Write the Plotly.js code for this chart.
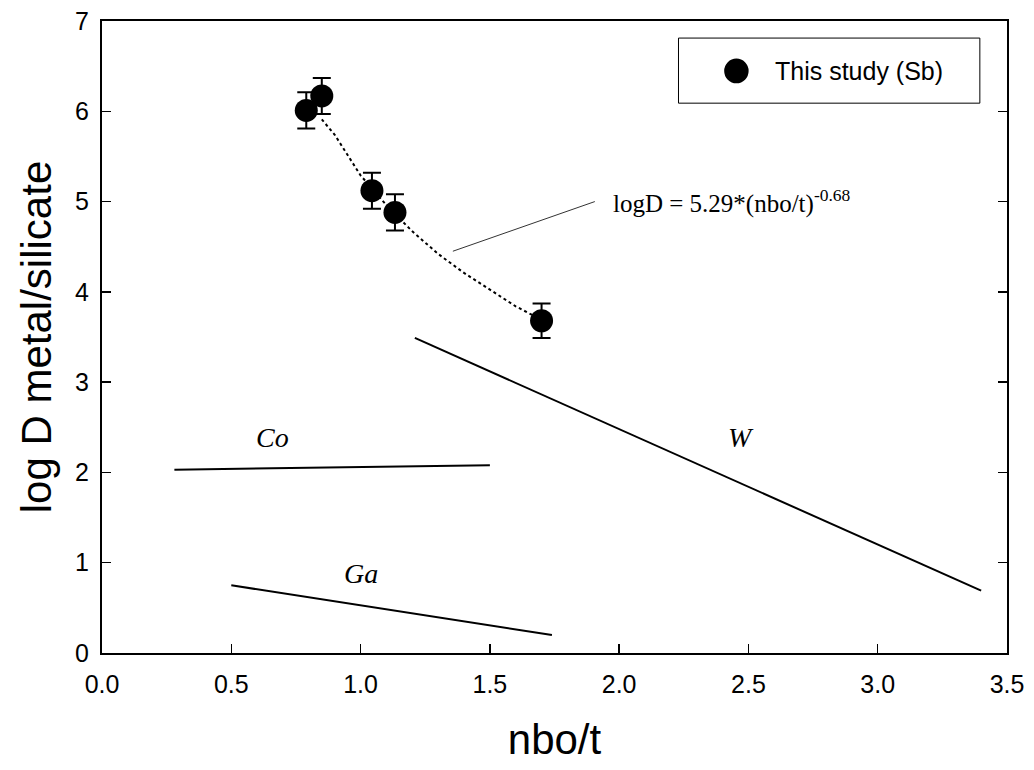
<!DOCTYPE html>
<html>
<head>
<meta charset="utf-8">
<script src="https://cdn.plot.ly/plotly-3.0.1.min.js"></script>
<style>html,body{margin:0;padding:0;background:#fff;}#chart{width:1034px;height:770px;}</style>
</head>
<body>
<div id="chart"></div>
<script>
// This study (Sb) data
const sbX = [0.79, 0.85, 1.044, 1.133, 1.70];
const sbY = [6.01, 6.17, 5.12, 4.88, 3.68];
const sbErr = [0.20, 0.20, 0.20, 0.20, 0.19];

// Dotted fit curve
const fitX = [0.85, 0.9, 1.0, 1.1, 1.2, 1.3, 1.4, 1.5, 1.6, 1.7];
const fitY = [5.91, 5.74, 5.29, 4.96, 4.67, 4.42, 4.21, 4.02, 3.84, 3.69];

// Literature trend lines
const coX = [0.28, 1.50];
const coY = [2.03, 2.08];
const gaX = [0.50, 1.74];
const gaY = [0.75, 0.20];
const wX = [1.21, 3.40];
const wY = [3.49, 0.69];

// Pointer line for the equation label
const ptrX = [1.357, 1.906];
const ptrY = [4.45, 5.00];

const SANS = 'Arial, "Liberation Sans", sans-serif';
const SERIF = '"Liberation Serif", "Times New Roman", serif';

const traces = [
  {x: fitX, y: fitY, mode: 'lines', line: {color: '#000', width: 2, dash: 'dot'}, showlegend: false, hoverinfo: 'skip'},
  {x: coX, y: coY, mode: 'lines', line: {color: '#000', width: 2}, showlegend: false},
  {x: gaX, y: gaY, mode: 'lines', line: {color: '#000', width: 2}, showlegend: false},
  {x: wX, y: wY, mode: 'lines', line: {color: '#000', width: 2}, showlegend: false},
  {x: ptrX, y: ptrY, mode: 'lines', line: {color: '#333', width: 1}, showlegend: false},
  {x: sbX, y: sbY, mode: 'markers', name: 'This study (Sb)',
   marker: {color: '#000', size: 23, symbol: 'circle'},
   error_y: {type: 'data', array: sbErr, visible: true, color: '#000', thickness: 2, width: 9},
   showlegend: false}
];

const layout = {
  width: 1034, height: 770,
  margin: {l: 102, r: 27, t: 21, b: 117},
  paper_bgcolor: '#fff', plot_bgcolor: '#fff',
  font: {family: SANS, color: '#000'},
  xaxis: {
    range: [0, 3.5], dtick: 0.5, tickformat: '.1f',
    showgrid: false, zeroline: false,
    showline: true, linecolor: '#000', linewidth: 2, mirror: true,
    ticks: 'inside', ticklen: 9, tickwidth: 1.5, tickcolor: '#000',
    ticklabelstandoff: 8,
    tickfont: {size: 25, family: SANS},
    title: {text: 'nbo/t', font: {size: 42, family: SANS}, standoff: 28}
  },
  yaxis: {
    range: [0, 7], dtick: 1,
    showgrid: false, zeroline: false,
    showline: true, linecolor: '#000', linewidth: 2, mirror: 'ticks',
    ticks: 'inside', ticklen: 9, tickwidth: 1.5, tickcolor: '#000',
    ticklabelstandoff: 6,
    tickfont: {size: 25, family: SANS},
    title: {text: 'log D metal/silicate', font: {size: 42, family: SANS}, standoff: 10}
  },
  shapes: [
    {type: 'rect', xref: 'paper', yref: 'paper', x0: 0.637, x1: 0.970, y0: 0.87, y1: 0.973,
     line: {color: '#000', width: 1}, fillcolor: 'rgba(255,255,255,0)'},
    {type: 'circle', xref: 'paper', yref: 'paper', x0: 0.6875, x1: 0.7145, y0: 0.9015, y1: 0.9405,
     line: {color: '#000', width: 0}, fillcolor: '#000'}
  ],
  annotations: [
    {xref: 'paper', yref: 'paper', x: 0.741, y: 0.921, xanchor: 'left', yanchor: 'middle', showarrow: false,
     text: 'This study (Sb)', font: {size: 25, family: SANS}},
    {x: 1.97, y: 5.0, xanchor: 'left', yanchor: 'middle', showarrow: false,
     text: 'logD = 5.29*(nbo/t)<sup>-0.68</sup>', font: {size: 25, family: SERIF}},
    {x: 0.66, y: 2.39, showarrow: false, text: '<i>Co</i>', font: {size: 28, family: SERIF}},
    {x: 2.47, y: 2.39, showarrow: false, text: '<i>W</i>', font: {size: 28, family: SERIF}},
    {x: 1.0, y: 0.88, showarrow: false, text: '<i>Ga</i>', font: {size: 28, family: SERIF}}
  ]
};

Plotly.newPlot('chart', traces, layout, {displayModeBar: false, staticPlot: true});
</script>
</body>
</html>
